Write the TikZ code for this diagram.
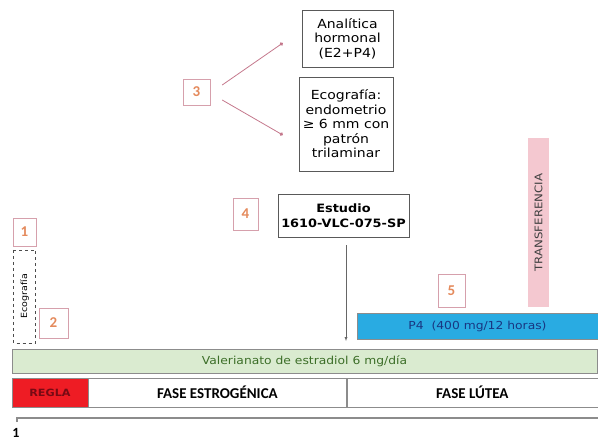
\documentclass[tikz,border=0pt]{standalone}
\usepackage{fontspec}
\setmainfont{DejaVu Sans}[FakeStretch=1.12]
\newfontfamily\phasefont{Carlito}
\usetikzlibrary{arrows.meta}
\definecolor{numpink}{RGB}{214,160,172}
\definecolor{numorange}{RGB}{228,138,92}
\definecolor{linkpink}{RGB}{196,120,140}
\definecolor{reglared}{RGB}{238,28,36}
\definecolor{reglatext}{RGB}{120,10,20}
\definecolor{greenfill}{RGB}{218,235,208}
\definecolor{greentext}{RGB}{60,110,40}
\definecolor{bluefill}{RGB}{41,171,226}
\definecolor{bluetext}{RGB}{25,55,130}
\definecolor{pinkfill}{RGB}{244,200,208}
\tikzset{>=latex,
  numbox/.style={draw=numpink, text=numorange, inner sep=0pt,
    font=\phasefont\bfseries\fontsize{15}{15}\selectfont},
  textbox/.style={draw=black!65, fill=white, align=center, inner sep=1pt,
    font=\fontsize{12.5}{14.5}\selectfont},
  bar/.style={draw=black!45, inner sep=0pt, font=\fontsize{11}{11}\selectfont},
  phase/.style={draw=black!45, inner sep=0pt, minimum height=29pt,
    font=\phasefont\bfseries\fontsize{15}{15}\selectfont},
  link/.style={linkpink, line width=0.8pt, -{Circle[length=3.5pt]}}
}
\begin{document}
\begin{tikzpicture}[x=1pt,y=-1pt]
  \useasboundingbox (0,0) rectangle (598,441);
  % cuadros de arriba
  \node[textbox, minimum width=91pt, minimum height=57pt] (analitica) at (347.5,38.5) {Analítica\\hormonal\\(E2+P4)};
  \node[textbox, minimum width=94pt, minimum height=94pt] (ecografia) at (346,124) {Ecografía:\\endometrio\\≥ 6 mm con\\patrón\\trilaminar};
  \node[numbox, minimum width=27pt, minimum height=26pt] (n3) at (196.5,92) {3};
  \draw[link] ([xshift=12pt,yshift=7pt]n3.east) -- ([xshift=-19pt,yshift=-4.5pt]analitica.west);
  \draw[link] ([xshift=12pt,yshift=-8pt]n3.east) -- ([xshift=-16pt,yshift=-11pt]ecografia.west);
  % estudio
  \node[textbox, font=\bfseries\fontsize{11.5}{14.5}\selectfont, minimum width=131pt, minimum height=43pt] (estudio) at (343.5,215.5) {Estudio\\1610-VLC-075-SP};
  \node[numbox, minimum width=25pt, minimum height=32pt] (n4) at (245.5,214) {4};
  \coordinate (llegada) at (346,341);
  \draw[black!60,->,shorten <=8pt] (estudio.south -| llegada) -- (llegada);
  % ecografia basal
  \node[numbox, minimum width=23pt, minimum height=28pt] (n1) at (24.5,232) {1};
  \node[draw=black!70, dashed, rotate=90, minimum width=93pt, minimum height=22pt, inner sep=0pt,
    font=\fontsize{8.5}{8.5}\selectfont] (ecobasal) at (24.5,296.5) {Ecografía};
  \node[numbox, minimum width=29pt, minimum height=30pt] (n2) at (53.5,323) {2};
  % transferencia y P4
  \node[fill=pinkfill, rotate=90, minimum width=169pt, minimum height=21pt, inner sep=0pt,
    text=black!75, font=\fontsize{10.5}{10.5}\selectfont] (transfer) at (538.5,222.5) {TRANSFERENCIA};
  \node[numbox, minimum width=27pt, minimum height=33pt] (n5) at (451.5,290.5) {5};
  \node[bar, fill=bluefill, text=bluetext, minimum width=241pt, minimum height=26pt] (p4) at (477.5,326) {P4\ \ (400 mg/12 horas)};
  % barras de abajo
  \node[bar, fill=greenfill, text=greentext, minimum width=585pt, minimum height=24pt] (valerianato) at (304.5,361) {Valerianato de estradiol 6 mg/día};
  \node[phase, fill=reglared, text=reglatext, minimum width=76pt,
    font=\bfseries\fontsize{10}{10}\selectfont] (regla) at (50,392.5) {REGLA};
  \node[phase, minimum width=258pt, anchor=west] (estrog) at (regla.east) {FASE ESTROGÉNICA};
  \node[phase, minimum width=251pt, anchor=west] (lutea) at (estrog.east) {FASE LÚTEA};
  \node[font=\phasefont\bfseries\fontsize{14}{14}\selectfont, inner sep=0pt] (pagina) at (16,433) {1};
  \draw[black!45, line width=1.2pt] (17,422) |- (598,418);
\end{tikzpicture}
\end{document}
